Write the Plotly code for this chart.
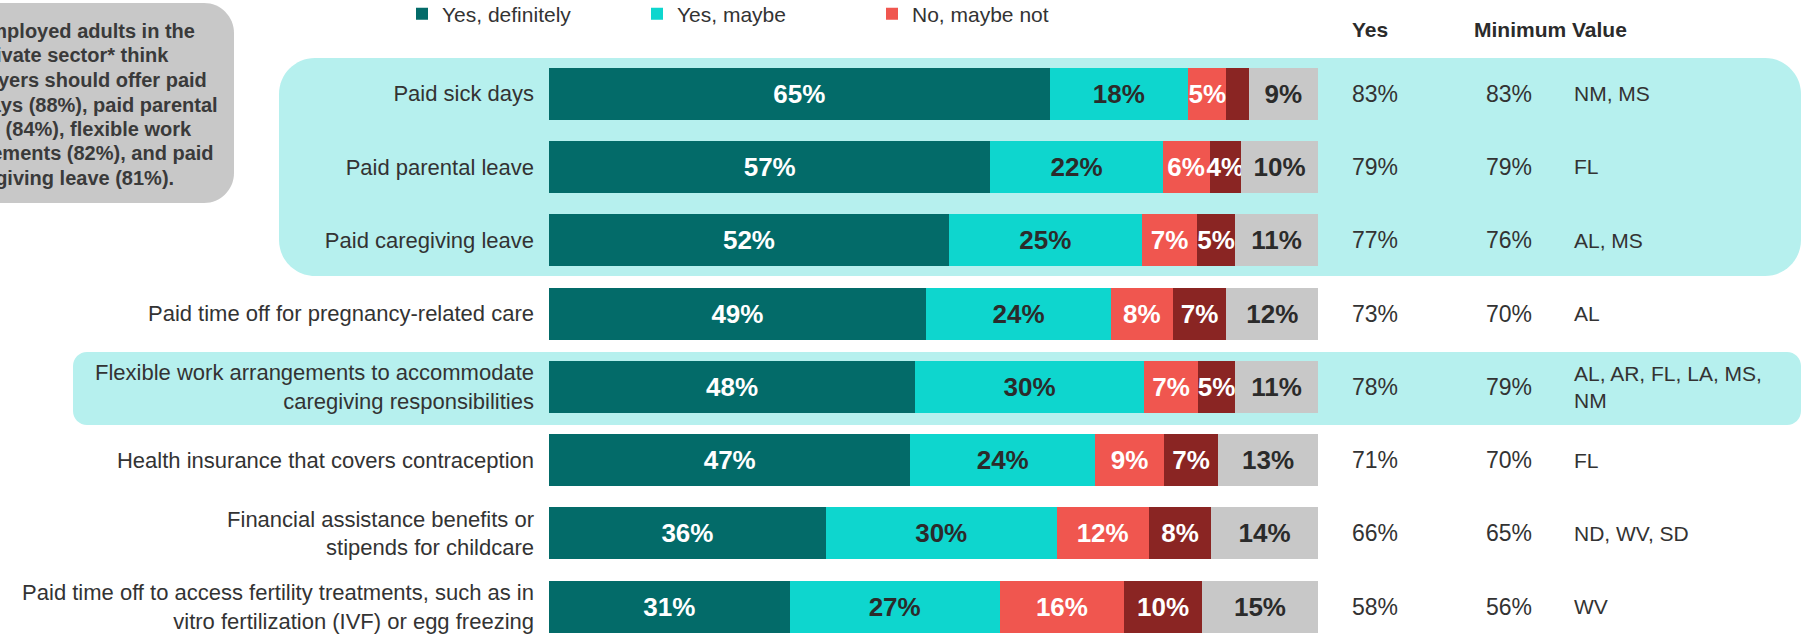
import plotly.graph_objects as go

# ---------------- data ----------------
categories = [
    "Paid sick days",
    "Paid parental leave",
    "Paid caregiving leave",
    "Paid time off for pregnancy-related care",
    "Flexible work arrangements to accommodate<br>caregiving responsibilities",
    "Health insurance that covers contraception",
    "Financial assistance benefits or<br>stipends for childcare",
    "Paid time off to access fertility treatments, such as in<br>vitro fertilization (IVF) or egg freezing",
]
yes_definitely = [65.1, 57.4, 52.0, 49.0, 47.6, 47.0, 36.0, 31.3]
yes_maybe = [18.0, 22.4, 25.1, 24.1, 29.8, 24.0, 30.0, 27.3]
no_maybe_not = [5.0, 6.1, 7.2, 8.0, 7.0, 9.0, 12.0, 16.2]
no_definitely_not = [2.9, 4.1, 4.9, 7.0, 4.8, 7.0, 8.1, 10.1]
not_sure = [9.0, 10.0, 10.8, 11.9, 10.8, 13.0, 13.9, 15.1]

yes_total = ["83%", "79%", "77%", "73%", "78%", "71%", "66%", "58%"]
minimum_value = ["83%", "79%", "76%", "70%", "79%", "70%", "65%", "56%"]
minimum_states = ["NM, MS", "FL", "AL, MS", "AL", "AL, AR, FL, LA, MS,<br>NM", "FL", "ND, WV, SD", "WV"]

series_names = ["Yes, definitely", "Yes, maybe", "No, maybe not", "No, definitely not", "Not sure"]
series_values = [yes_definitely, yes_maybe, no_maybe_not, no_definitely_not, not_sure]
series_colors = ["#036B69", "#0ED6CE", "#F0564F", "#8A2523", "#C8C8C8"]
label_colors = ["#FFFFFF", "#2B2B2B", "#FFFFFF", "#FFFFFF", "#2B2B2B"]
show_in_legend = [True, True, True, False, False]

callout_lines = [
    "Most employed adults in the",
    "private sector* think",
    "employers should offer paid",
    "sick days (88%), paid parental",
    "leave (84%), flexible work",
    "arrangements (82%), and paid",
    "caregiving leave (81%).",
]

# ---------------- geometry (pixels) ----------------
W, H = 1804, 634
PL, PR, PT, PB = 549, 1318, 57, 634
ROWH = 73.3


def X(px):
    return (px - PL) / (PR - PL)


def Y(py):
    return 1 - (py - PT) / (PB - PT)


def rrect(x0, y0, x1, y1, r):
    k = 0.4477 * r
    pts = [
        f"M {X(x0 + r)},{Y(y0)}",
        f"L {X(x1 - r)},{Y(y0)}",
        f"C {X(x1 - k)},{Y(y0)} {X(x1)},{Y(y0 + k)} {X(x1)},{Y(y0 + r)}",
        f"L {X(x1)},{Y(y1 - r)}",
        f"C {X(x1)},{Y(y1 - k)} {X(x1 - k)},{Y(y1)} {X(x1 - r)},{Y(y1)}",
        f"L {X(x0 + r)},{Y(y1)}",
        f"C {X(x0 + k)},{Y(y1)} {X(x0)},{Y(y1 - k)} {X(x0)},{Y(y1 - r)}",
        f"L {X(x0)},{Y(y0 + r)}",
        f"C {X(x0)},{Y(y0 + k)} {X(x0 + k)},{Y(y0)} {X(x0 + r)},{Y(y0)}",
        "Z",
    ]
    return " ".join(pts)


fig = go.Figure()
for name, vals, col, tcol, sl in zip(series_names, series_values, series_colors, label_colors, show_in_legend):
    texts = [f"{v:.0f}%" if v >= 3.5 else "" for v in vals]
    fig.add_trace(go.Bar(
        y=categories, x=vals, name=name, orientation="h",
        marker=dict(color=col, line=dict(width=0)),
        text=texts, textposition="inside", insidetextanchor="middle",
        textangle=0, constraintext="none",
        textfont=dict(family="Liberation Sans Narrow, Arial Narrow, Liberation Sans, Arial", size=26,
                      color=tcol, weight="bold"),
        showlegend=sl, hoverinfo="skip",
    ))

shapes = [
    dict(type="path", xref="paper", yref="paper", layer="below", line=dict(width=0),
         fillcolor="#B6F0EE", path=rrect(279, 58, 1801, 276, 36)),
    dict(type="path", xref="paper", yref="paper", layer="below", line=dict(width=0),
         fillcolor="#B6F0EE", path=rrect(73, 352, 1801, 425, 14)),
    dict(type="path", xref="paper", yref="paper", layer="below", line=dict(width=0),
         fillcolor="#C8C8C8", path=rrect(-90, 3, 234, 203, 30)),
]

annotations = []
txt_font = dict(family="Liberation Sans, Arial", size=23, color="#333333")
for i in range(len(categories)):
    annotations.append(dict(xref="paper", yref="y", x=X(1350), y=categories[i], text=yes_total[i],
                            showarrow=False, xanchor="left", yanchor="middle", font=txt_font))
    annotations.append(dict(xref="paper", yref="y", x=X(1484), y=categories[i], text=minimum_value[i],
                            showarrow=False, xanchor="left", yanchor="middle", font=txt_font))
    annotations.append(dict(xref="paper", yref="y", x=X(1572), y=categories[i], text=minimum_states[i],
                            showarrow=False, xanchor="left", yanchor="middle", align="left",
                            font=dict(family="Liberation Sans, Arial", size=21, color="#333333")))

hdr_font = dict(family="Liberation Sans, Arial", size=21, color="#2B2B2B", weight="bold")
annotations.append(dict(xref="paper", yref="paper", x=X(1350), y=Y(30), text="Yes", showarrow=False,
                        xanchor="left", yanchor="middle", font=hdr_font))
annotations.append(dict(xref="paper", yref="paper", x=X(1472), y=Y(30), text="Minimum Value", showarrow=False,
                        xanchor="left", yanchor="middle", font=hdr_font))

line_y = [31, 55, 80, 105, 129, 153, 178]
line_end = [197, 171, 209, 220, 194, 216, 176]
for ly, le, t in zip(line_y, line_end, callout_lines):
    annotations.append(dict(xref="paper", yref="paper", x=X(le), y=Y(ly), text=t, showarrow=False,
                            xanchor="right", yanchor="middle",
                            font=dict(family="Liberation Sans, Arial", size=20, color="#3A3A3A", weight="bold")))

fig.update_layout(
    width=W, height=H, barmode="stack", bargap=0.29,
    margin=dict(l=PL, r=W - PR, t=PT, b=H - PB, pad=0, autoexpand=False),
    paper_bgcolor="white", plot_bgcolor="rgba(0,0,0,0)",
    xaxis=dict(range=[0, 100], visible=False, fixedrange=True),
    yaxis=dict(type="category", categoryorder="array", categoryarray=categories,
               range=[577 / ROWH - 0.5, -0.5], autorange=False, fixedrange=True,
               showgrid=False, zeroline=False, showline=False, ticks="",
               ticklabelstandoff=14,
               tickfont=dict(family="Liberation Sans, Arial", size=22, color="#333333")),
    legend=dict(orientation="h", x=X(402), y=Y(14), xanchor="left", yanchor="middle",
                font=dict(family="Liberation Sans, Arial", size=21, color="#333333"),
                entrywidth=190, itemwidth=30, bgcolor="rgba(0,0,0,0)", traceorder="normal"),
    uniformtext=dict(minsize=26, mode="show"),
    shapes=shapes, annotations=annotations,
)

fig.write_html("out.html", config={"displayModeBar": False},
               post_script="document.body.style.margin='0px';document.body.style.overflow='hidden';")
